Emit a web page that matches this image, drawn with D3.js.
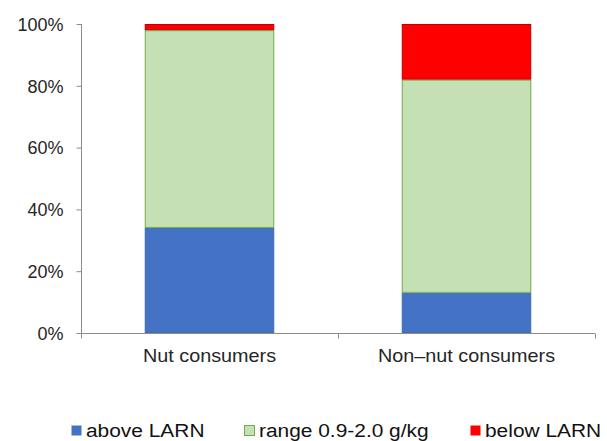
<!DOCTYPE html>
<html>
<head>
<meta charset="utf-8">
<script src="https://cdn.jsdelivr.net/npm/d3@7"></script>
<style>
  html, body { margin: 0; padding: 0; background: #fff; }
  svg { display: block; font-family: "Liberation Sans", Arial, sans-serif; }
</style>
</head>
<body>
<svg id="chart" width="607" height="441"></svg>
<script>
// Protein intake relative to LARN reference, share of each group
const categories = ["Nut consumers", "Non\u2013nut consumers"];
const seriesNames = ["above LARN", "range 0.9-2.0 g/kg", "below LARN"];
const aboveLarn = [0.34, 0.13];
const inRange = [0.64, 0.69];
const belowLarn = [0.02, 0.18];
const yTicks = [0, 0.2, 0.4, 0.6, 0.8, 1.0];

const fills = ["#4472c4", "#c5e0b4", "#ff0000"];
const strokes = ["#3f6bb8", "#70ad47", "#c00000"];

const svg = d3.select("#chart");
const plotLeft = 81, plotRight = 595, plotTop = 24, plotBottom = 333;
const axisColor = "#8c8c8c";
const textColor = "#262626";
const sx = 1.1; // slightly wide lettering

const rows = categories.map((c, i) => ({
  cat: c,
  "above LARN": aboveLarn[i],
  "range 0.9-2.0 g/kg": inRange[i],
  "below LARN": belowLarn[i]
}));
const stacked = d3.stack().keys(seriesNames)(rows);

const x = d3.scaleBand().domain(categories).range([plotLeft, plotRight])
  .paddingInner(0.496).paddingOuter(0.248);
const y = d3.scaleLinear().domain([0, 1]).range([plotBottom, plotTop]);

// bars
svg.append("g").selectAll("g").data(stacked).join("g")
  .attr("fill", (d, i) => fills[i])
  .attr("stroke", (d, i) => strokes[i])
  .attr("stroke-width", 1)
  .selectAll("rect").data(d => d).join("rect")
  .attr("x", d => x(d.data.cat) + 0.5)
  .attr("width", x.bandwidth() - 1)
  .attr("y", d => y(d[1]) + 0.5)
  .attr("height", d => Math.max(0, y(d[0]) - y(d[1]) - 1));

// y axis
const yAxis = svg.append("g").attr("transform", `translate(${plotLeft + 0.5},0)`)
  .call(d3.axisLeft(y).tickValues(yTicks).tickFormat(d3.format(".0%")).tickSize(5).tickPadding(13));
yAxis.select(".domain").attr("stroke", axisColor).attr("d", `M0,${plotBottom}V${plotTop}`);
yAxis.selectAll(".tick line").attr("stroke", axisColor);
yAxis.selectAll(".tick text")
  .attr("fill", textColor).attr("font-size", 18)
  .attr("font-family", "Liberation Sans, Arial, sans-serif")
  .attr("dy", "0.35em");

// x axis line with boundary ticks
const bounds = d3.range(categories.length + 1).map(i => plotLeft + i * x.step());
const xAxis = svg.append("g").attr("transform", `translate(0,${plotBottom + 0.5})`);
xAxis.append("line").attr("x1", plotLeft).attr("x2", plotRight)
  .attr("stroke", axisColor);
xAxis.selectAll("line.tk").data(bounds).join("line").attr("class", "tk")
  .attr("x1", d => Math.round(d) + 0.5).attr("x2", d => Math.round(d) + 0.5)
  .attr("y1", 0).attr("y2", 5).attr("stroke", axisColor);

// category labels
svg.append("g").selectAll("text").data(categories).join("text")
  .attr("transform", d => `translate(${x(d) + x.bandwidth() / 2},362) scale(${sx},1)`)
  .attr("text-anchor", "middle")
  .attr("font-size", 18)
  .attr("fill", textColor)
  .text(d => d);

// legend
const legendX = [71, 244, 470];
const lg = svg.append("g").selectAll("g").data(seriesNames).join("g")
  .attr("transform", (d, i) => `translate(${legendX[i]},425)`);
lg.append("rect").attr("x", 0.5).attr("y", 0.5).attr("width", 10).attr("height", 10)
  .attr("fill", (d, i) => fills[i])
  .attr("stroke", (d, i) => i === 1 ? strokes[1] : "none");
lg.append("text")
  .attr("transform", `translate(15,12) scale(${sx},1)`)
  .attr("font-size", 19)
  .attr("fill", "#111")
  .text(d => d);
</script>
</body>
</html>
